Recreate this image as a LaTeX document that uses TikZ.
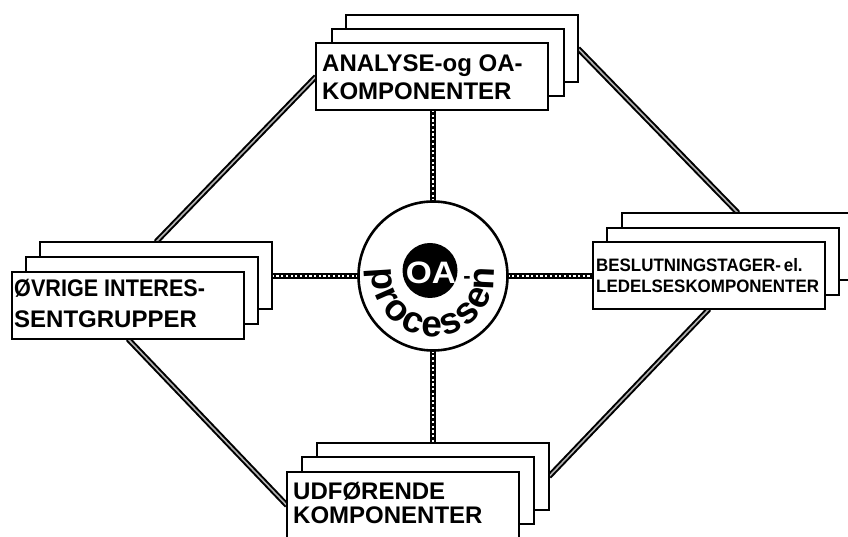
\documentclass[tikz,border=0pt]{standalone}
\usepackage{fontspec}
\usepackage{graphicx}
\setmainfont{Liberation Sans}
\usetikzlibrary{decorations.text}
\pgfdeclarelayer{back}
\pgfsetlayers{back,main}
\newcommand\procfont{\fontsize{37}{37}\selectfont\bfseries}

\begin{document}
\begin{tikzpicture}[x=1pt,y=1pt,
  card/.style={draw=black, fill=white, line width=2.8pt, minimum width=232pt,
    minimum height=67pt, inner sep=0pt, outer sep=0pt, anchor=north west},
  lbl/.style={inner sep=0pt, anchor=base west, font=\bfseries\fontsize{24}{28}\selectfont},
  slbl/.style={inner sep=0pt, anchor=base west, font=\bfseries\fontsize{18}{21}\selectfont},
  rail/.style={draw=black, line width=5.4pt,
    postaction={draw=white, line width=1.8pt, dash pattern=on 2.2pt off 2.5pt}},
  tie/.style={draw=black, line width=2pt, double=gray!60, double distance=1.6pt}]

\useasboundingbox (0,0) rectangle (848,537);
\clip (0,0) rectangle (848,537);

% top stack
\node[card] (topB) at (346,522) {};
\node[card] (topM) at (332,508) {};
\node[card] (topF) at (316,494) {};
\node[lbl] (topL1) at (322,465) {ANALYSE-og OA-};
\node[lbl] (topL2) at (322,437) {KOMPONENTER};

% right stack
\node[card] (rightB) at (622,324) {};
\node[card] (rightM) at (607,309) {};
\node[card] (rightF) at (593,295) {};
\node[slbl] (rightL1) at (596,265) {\scalebox{0.94}[1]{BESLUTNINGSTAGER-\,el.}};
\node[slbl] (rightL2) at (596,244) {\scalebox{0.94}[1]{LEDELSESKOMPONENTER}};

% left stack
\node[card] (leftB) at (40,295) {};
\node[card] (leftM) at (26,280) {};
\node[card] (leftF) at (12,265) {};
\node[lbl] (leftL1) at (14,240) {\scalebox{0.9}[1]{ØVRIGE INTERES-}};
\node[lbl] (leftL2) at (14,209) {SENTGRUPPER};

% bottom stack
\node[card] (botB) at (317,94) {};
\node[card] (botM) at (302,80) {};
\node[card] (botF) at (287,65) {};
\node[lbl] (botL1) at (293,37) {UDFØRENDE};
\node[lbl] (botL2) at (293,13) {KOMPONENTER};

% central process circle
\node[draw=black, fill=white, circle, line width=2.6pt, minimum size=149pt,
  inner sep=0pt, outer sep=0pt] (proc) at (433,261) {};
\node[circle, fill=black, minimum size=55pt, inner sep=0pt] (oa) at (430,266.5) {};
\node[text=white, inner sep=0pt, font=\bfseries\fontsize{31}{31}\selectfont] (oatxt) at (431,264)
  {\scalebox{1.08}[1]{OA}};
\node[inner sep=0pt, anchor=base, font=\bfseries\fontsize{22}{22}\selectfont] (oadash) at (467,253) {-};
\path[decorate, decoration={text along path, text={|\procfont|processen},
    text align={fit to path}}]
  ([shift={(173:61)}]proc.center) arc[start angle=173, end angle=368, radius=61];

% connectors
\begin{pgfonlayer}{back}
  \draw[rail] (proc.north) -- (proc.north |- topF.south);
  \draw[rail] (proc.south) -- (proc.south |- botB.north);
  \draw[rail] (proc.west) -- (proc.west -| leftB.east);
  \draw[rail] (proc.east) -- (proc.east -| rightF.west);
  \draw[tie] (leftB.north) -- (topF.west);
  \draw[tie] (topB.east) -- (rightB.north);
  \draw[tie] (rightF.south) -- (botB.east);
  \draw[tie] (leftF.south) -- (botF.west);
\end{pgfonlayer}
\end{tikzpicture}
\end{document}
